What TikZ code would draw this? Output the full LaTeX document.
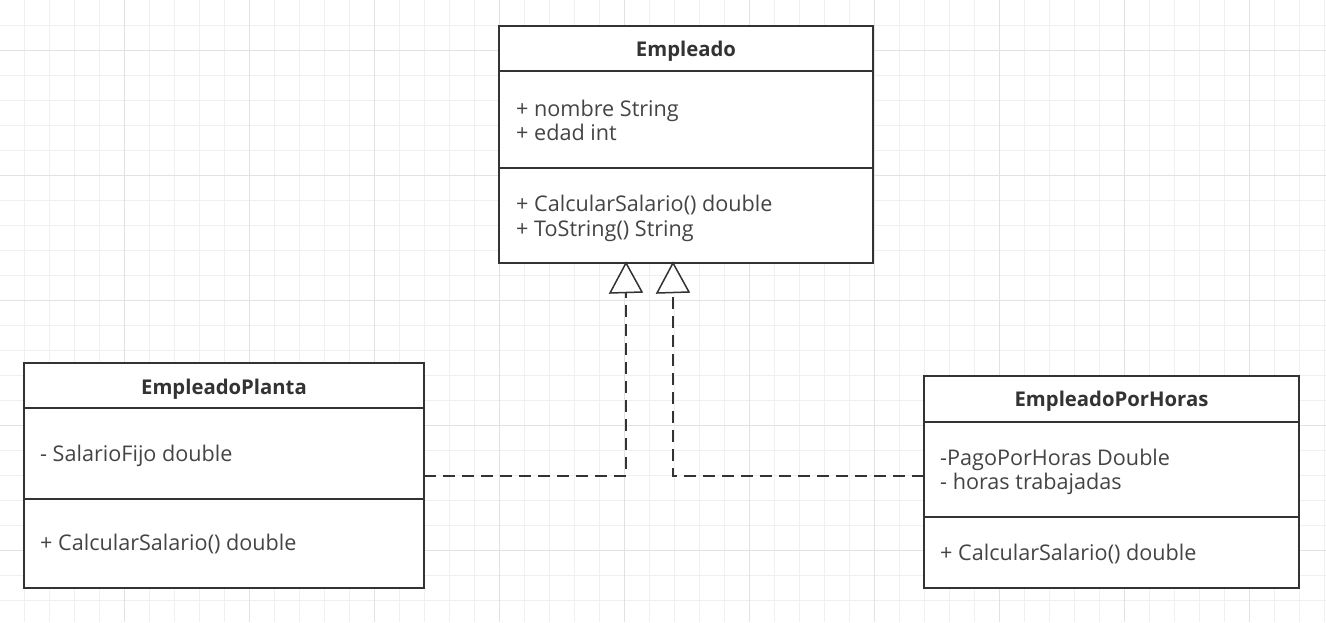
\documentclass[tikz,border=0pt]{standalone}
\usepackage{fontspec}
\setmainfont{Open Sans}
\definecolor{gridminor}{HTML}{F0F0F0}
\definecolor{gridmajor}{HTML}{E2E2E2}
\definecolor{linec}{HTML}{333333}
\definecolor{txt}{HTML}{444444}
\tikzset{
 box/.style={draw=linec, line width=2pt, fill=white, anchor=north west, inner sep=0pt, outer sep=0pt},
 attr/.style={anchor=base west, text=txt, font=\fontsize{21.6}{24}\selectfont, inner sep=0pt},
 ttl/.style={anchor=base, text=linec, font=\fontsize{20.3}{24}\selectfont\bfseries, inner sep=0pt},
 rel/.style={draw=linec, line width=1.5pt, dash pattern=on 12pt off 7pt},
 tri/.style={draw=linec, line width=1.5pt, fill=white, line join=miter},
}
\begin{document}
\begin{tikzpicture}[x=1pt,y=-1pt]
\useasboundingbox (0,0) rectangle (1326,622);
\fill[white] (0,0) rectangle (1326,622);
% grid
\foreach \i in {0,...,53} \draw[gridminor, line width=1pt] ({25*\i-0.5},0) -- ++(0,622);
\foreach \j in {1,...,24} \draw[gridminor, line width=1pt] (0,{25*\j}) -- ++(1326,0);
\foreach \i in {0,...,9} \draw[gridmajor, line width=1pt] ({125*\i+124.5},0) -- ++(0,622);
\foreach \j in {0,...,4} \draw[gridmajor, line width=1pt] (0,{125*\j+50}) -- ++(1326,0);

% Empleado
\node[box, minimum width=374pt, minimum height=45pt] (empT) at (499,26) {};
\node[box, minimum width=374pt, minimum height=97pt] (empA) at (499,71) {};
\node[box, minimum width=374pt, minimum height=95pt] (empM) at (499,168) {};
\node[ttl] (empTitle) at (686,56) {Empleado};
\node[attr] (empA1) at (516,116) {+ nombre String};
\node[attr] (empA2) at (516,140.5) {+ edad int};
\node[attr] (empM1) at (516,211.5) {+ CalcularSalario() double};
\node[attr] (empM2) at (516,236) {+ ToString() String};

% EmpleadoPlanta
\node[box, minimum width=400pt, minimum height=45pt] (plT) at (24,363) {};
\node[box, minimum width=400pt, minimum height=91pt] (plA) at (24,408) {};
\node[box, minimum width=400pt, minimum height=89pt] (plM) at (24,499) {};
\node[ttl] (plTitle) at (224,394) {EmpleadoPlanta};
\node[attr] (plA1) at (40,461) {- SalarioFijo double};
\node[attr] (plM1) at (40,550.5) {+ CalcularSalario() double};

% EmpleadoPorHoras
\node[box, minimum width=375pt, minimum height=46pt] (phT) at (924,376) {};
\node[box, minimum width=375pt, minimum height=95pt] (phA) at (924,422) {};
\node[box, minimum width=375pt, minimum height=71pt] (phM) at (924,517) {};
\node[ttl] (phTitle) at (1111.5,406) {EmpleadoPorHoras};
\node[attr] (phA1) at (940,465) {-PagoPorHoras Double};
\node[attr] (phA2) at (940,489.5) {- horas trabajadas};
\node[attr] (phM1) at (940,560.5) {+ CalcularSalario() double};

% relations
\coordinate (j1) at (626,476);
\coordinate (b1) at (626,293);
\coordinate (j2) at (673,476);
\coordinate (b2) at (673,293);
\draw[rel] (plA.east |- j1) -- (j1) -- (b1);
\draw[rel] (phA.west |- j2) -- (j2) -- (b2);
\draw[tri] (b1) ++(-16,0) -- (empM.south -| b1) -- ++(16,29) -- cycle;
\draw[tri] (b2) ++(-16,0) -- (empM.south -| b2) -- ++(16,29) -- cycle;
\end{tikzpicture}
\end{document}
